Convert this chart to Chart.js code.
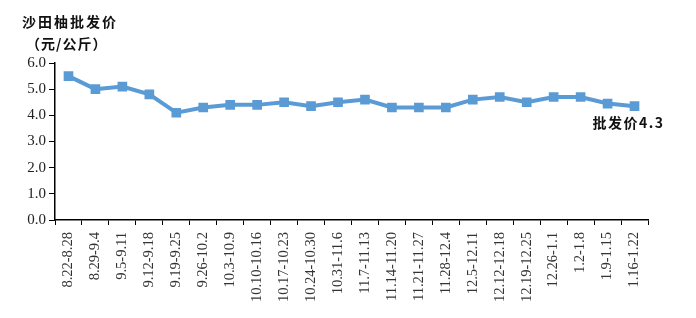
<!DOCTYPE html>
<html>
<head>
<meta charset="utf-8">
<script src="https://cdn.jsdelivr.net/npm/chart.js@4/dist/chart.umd.min.js"></script>
<style>
  html, body { margin: 0; padding: 0; background: #fff; }
  #wrap { width: 696px; height: 318px; }
</style>
</head>
<body>
<div id="wrap"><canvas id="priceChart"></canvas></div>
<script>
const weeks = ['8.22-8.28', '8.29-9.4', '9.5-9.11', '9.12-9.18', '9.19-9.25', '9.26-10.2', '10.3-10.9',
    '10.10-10.16', '10.17-10.23', '10.24-10.30', '10.31-11.6', '11.7-11.13', '11.14-11.20', '11.21-11.27',
    '11.28-12.4', '12.5-12.11', '12.12-12.18', '12.19-12.25', '12.26-1.1', '1.2-1.8', '1.9-1.15', '1.16-1.22'];
const prices = [5.5, 5.0, 5.1, 4.8, 4.1, 4.3, 4.4, 4.4, 4.5, 4.35, 4.5, 4.6, 4.3, 4.3, 4.3, 4.6, 4.7, 4.5, 4.7, 4.7, 4.45, 4.35];
const yTicks = [0, 1, 2, 3, 4, 5, 6];
const titleLines = ['沙田柚批发价', '（元/公斤）'];
const endLabel = '批发价4.3';

const lineColor = '#5b9bd5';
const cjkFont = '"Noto Sans CJK SC", "Noto Sans", sans-serif';
const serifFont = '"Liberation Serif", "DejaVu Serif", serif';

const textPlugin = {
    id: 'textPlugin',
    afterDraw(chart) {
        const ctx = chart.ctx;
        ctx.save();
        ctx.fillStyle = '#111';
        ctx.textBaseline = 'middle';
        ctx.textAlign = 'left';
        ctx.font = 'bold 14px ' + cjkFont;
        ctx.letterSpacing = '2px';
        ctx.fillText(titleLines[0], 22, 22);
        ctx.letterSpacing = '1px';
        ctx.fillText(titleLines[1], 26, 44);

        const meta = chart.getDatasetMeta(0);
        const last = meta.data[meta.data.length - 1];
        ctx.font = 'bold 14px ' + cjkFont;
        ctx.letterSpacing = '1.5px';
        ctx.textAlign = 'right';
        ctx.fillText(endLabel, last.x + 30, last.y + 17);
        ctx.restore();
    },
};

new Chart(document.getElementById('priceChart').getContext('2d'), {
    type: 'line',
    data: {
        labels: weeks,
        datasets: [
            {
                data: prices,
                borderColor: lineColor,
                backgroundColor: lineColor,
                borderWidth: 4,
                pointStyle: 'rect',
                pointRadius: 4,
                pointHoverRadius: 4,
                tension: 0,
            },
        ],
    },
    options: {
        responsive: true,
        maintainAspectRatio: false,
        animation: false,
        layout: {
            padding: { top: 63, right: 48, left: 0, bottom: 0 },
        },
        scales: {
            x: {
                offset: true,
                grid: {
                    display: true,
                    drawOnChartArea: false,
                    offset: true,
                    color: '#000',
                    tickLength: 5,
                },
                border: { color: '#000', width: 1.5 },
                ticks: {
                    color: '#333',
                    maxRotation: 90,
                    minRotation: 90,
                    autoSkip: false,
                    padding: 7,
                    font: { family: serifFont, size: 14.5 },
                },
                afterFit(scale) {
                    scale.height = 98;
                },
            },
            y: {
                min: 0,
                max: 6,
                afterBuildTicks(scale) {
                    scale.ticks = yTicks.map((v) => ({ value: v }));
                },
                grid: {
                    display: true,
                    drawOnChartArea: false,
                    color: '#000',
                    tickLength: 6,
                },
                border: { color: '#000', width: 1.5 },
                ticks: {
                    color: '#222',
                    padding: 3,
                    font: { family: serifFont, size: 15 },
                    callback(value) {
                        return value.toFixed(1);
                    },
                },
                afterFit(scale) {
                    scale.width = 55;
                },
            },
        },
        plugins: {
            legend: { display: false },
            tooltip: { enabled: false },
        },
    },
    plugins: [textPlugin],
});
</script>
</body>
</html>
